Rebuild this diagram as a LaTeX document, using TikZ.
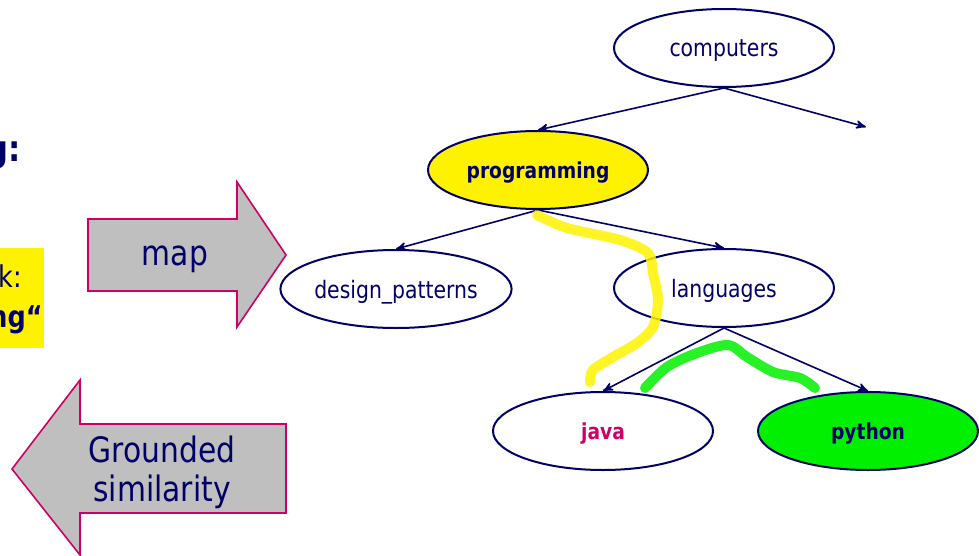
\documentclass[tikz,border=0pt]{standalone}
\usepackage{fontspec}
\setmainfont[FakeStretch=0.85]{DejaVu Sans}
\usetikzlibrary{arrows,shapes.geometric}
\definecolor{treeblue}{RGB}{0,0,102}
\definecolor{crimson}{RGB}{204,0,102}
\definecolor{hlgreen}{RGB}{0,240,0}
\tikzset{concept/.style={ellipse,draw=treeblue,line width=1pt,minimum width=110pt,minimum height=39pt,
            inner sep=0pt,text depth=0pt,text=treeblue,font=\fontsize{12}{14}\selectfont},
         hit/.style={concept,font=\fontsize{11}{13}\selectfont\bfseries},
         edge/.style={->,>=stealth',draw=treeblue,line width=0.8pt},
         bigarrow/.style={fill=gray!50,draw=crimson,line width=0.8pt},
         arrowtext/.style={text=treeblue,align=center,font=\fontsize{17.5}{19.5}\selectfont},
         marker/.style={line width=5pt,line cap=round,line join=round,opacity=0.85}
}

\begin{document}
\begin{tikzpicture}[x=0.5pt,y=-0.5pt]
  \useasboundingbox (0,0) rectangle (979,556);
  \clip (0,0) rectangle (979,556);
  % clipped slide text on the left
  \node[anchor=base east,inner sep=0pt,text=treeblue,font=\fontsize{18}{20}\selectfont\bfseries] (tagend) at (21,162) {g:};
  \fill[yellow] (0,248) rectangle (44,348);
  \node[anchor=base east,inner sep=0pt,text=treeblue,font=\fontsize{15}{17}\selectfont] (taskend) at (22,287) {k:};
  \node[anchor=base east,inner sep=0pt,text=treeblue,font=\fontsize{15}{17}\selectfont\bfseries] (wordend) at (43,327) {ng“};
  % block arrows
  \draw[bigarrow] (88,219) -- (237,219) -- (237,182) -- (286,255) -- (237,327) -- (237,291) -- (88,291) -- cycle;
  \node[arrowtext] (map) at (175,259) {map};
  \draw[bigarrow] (286,424) -- (80,424) -- (80,380) -- (12,469) -- (80,555) -- (80,513) -- (286,513) -- cycle;
  \node[arrowtext] (grounded) at (162,472) {Grounded\\similarity};
  % concept tree
  \node[concept] (computers) at (724,48) {computers};
  \node[hit,fill=yellow] (programming) at (538,170) {programming};
  \node[concept] (design) at (396,289) {design\_patterns};
  \node[concept] (languages) at (724,288) {languages};
  \node[hit,text=crimson] (java) at (603,431) {java};
  \node[hit,fill=hlgreen] (python) at (868,431) {python};
  \coordinate (other) at (866,127);
  \draw[edge] (computers.south) -- (programming.north);
  \draw[edge] (computers.south) -- (other);
  \draw[edge] (programming.south) -- (design.north);
  \draw[edge] (programming.south) -- (languages.north);
  \draw[edge] (languages.south) -- (java.north);
  \draw[edge] (languages.south) -- (python.north);
  % highlighter strokes
  \draw[marker,yellow] plot[smooth] coordinates {(537,215) (567,228) (620,240) (648,253) (653,273) (658,300) (653,327) (637,343) (613,357) (593,370) (590,382)};
  \draw[marker,hlgreen] plot[smooth] coordinates {(645,388) (667,367) (697,353) (728,345) (747,357) (773,372) (800,378) (815,388)};
\end{tikzpicture}
\end{document}
